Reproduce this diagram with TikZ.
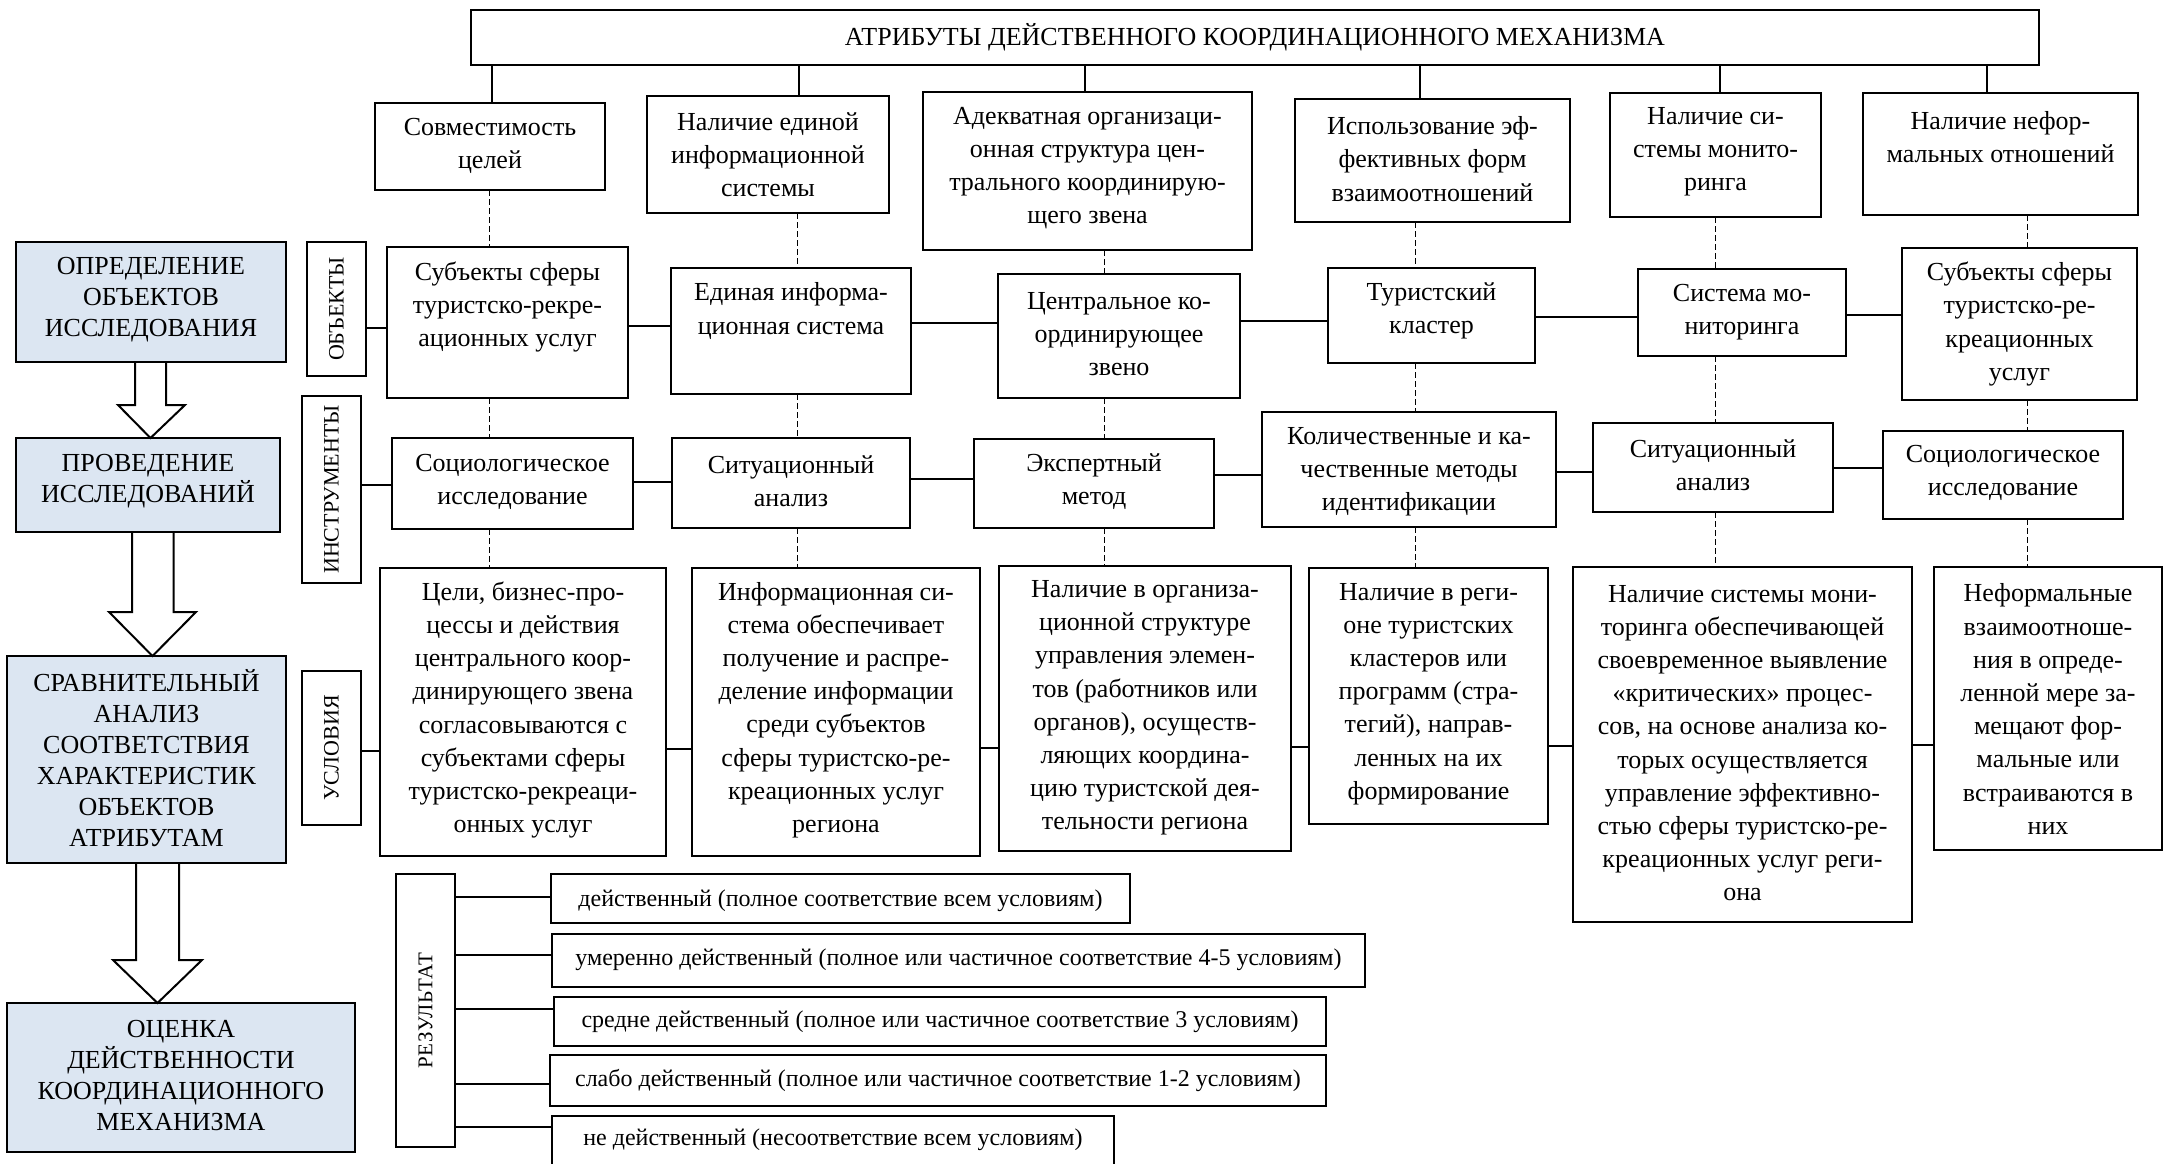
\documentclass[tikz,border=0pt]{standalone}
\usepackage{fontspec}
\setmainfont{Liberation Serif}
\usetikzlibrary{calc}
\definecolor{lblue}{HTML}{DCE6F2}
% [box style]{name}{x1}{y1}{x2}{y2}{text y}{text}
\newcommand\bxnode[8][]{%
  \pgfmathsetmacro\bxcx{(#3+#5)/2}%
  \pgfmathsetmacro\bxcy{(#4+#6)/2}%
  \pgfmathsetmacro\bxw{(#5-#3)/2}%
  \pgfmathsetmacro\bxh{(#6-#4)/2}%
  \node[box,#1,minimum width=\bxw pt,minimum height=\bxh pt] (#2) at (\bxcx,\bxcy) {};%
  \node[txt] (#2-t) at (\bxcx,#7) {#8};%
}
% {name}{x1}{y1}{x2}{y2}{text}
\newcommand\lbnode[6]{%
  \pgfmathsetmacro\bxcx{(#2+#4)/2}%
  \pgfmathsetmacro\bxcy{(#3+#5)/2}%
  \pgfmathsetmacro\bxw{(#4-#2)/2}%
  \pgfmathsetmacro\bxh{(#5-#3)/2}%
  \node[box,lab,minimum width=\bxw pt,minimum height=\bxh pt] (#1) at (\bxcx,\bxcy) {\rotatebox{90}{#6}};%
}
\begin{document}
\begin{tikzpicture}[x=0.5pt,y=-0.5pt,
  box/.style={draw,line width=0.75pt,fill=white,inner sep=0pt,outer sep=0pt},
  lab/.style={font=\fontsize{11}{13}\selectfont},
  txt/.style={inner sep=0pt,align=center,font=\fontsize{13}{16.6}\selectfont},
  conn/.style={line width=0.7pt},
  dconn/.style={line width=0.5pt,dash pattern=on 3pt off 1.5pt},
  barrow/.style={draw,line width=1pt,line join=miter}]
\useasboundingbox (0,0) rectangle (2163,1163);

% ---------- title ----------
\bxnode{T}{471}{10}{2039}{65}{37}{АТРИБУТЫ ДЕЙСТВЕННОГО КООРДИНАЦИОННОГО МЕХАНИЗМА}

% ---------- attributes ----------
\bxnode{A1}{375}{103}{605}{190}{146}{Совместимость\\целей}
\bxnode{A2}{647}{96}{889}{213}{155}{Наличие единой\\информационной\\системы}
\bxnode{A3}{923}{92}{1252}{250}{168}{Адекватная организаци-\\онная структура цен-\\трального координирую-\\щего звена}
\bxnode{A4}{1295}{99}{1570}{222}{159}{Использование эф-\\фективных форм\\взаимоотношений}
\bxnode{A5}{1610}{93}{1821}{217}{152}{Наличие си-\\стемы монито-\\ринга}
\bxnode{A6}{1863}{93}{2138}{215}{137}{Наличие нефор-\\мальных отношений}

% ---------- objects ----------
\lbnode{OBJ}{307}{242}{366}{376}{ОБЪЕКТЫ}
\bxnode{O1}{387}{247}{628}{398}{307}{Субъекты сферы\\туристско-рекре-\\ационных услуг}
\bxnode{O2}{671}{268}{911}{394}{311}{Единая информа-\\ционная система}
\bxnode{O3}{998}{274}{1240}{398}{334}{Центральное ко-\\ординирующее\\звено}
\bxnode{O4}{1328}{268}{1535}{363}{311}{Туристский\\кластер}
\bxnode{O5}{1638}{269}{1846}{356}{312}{Система мо-\\ниторинга}
\bxnode{O6}{1902}{248}{2137}{400}{324}{Субъекты сферы\\туристско-ре-\\креационных\\услуг}

% ---------- instruments ----------
\lbnode{INS}{302}{396}{361}{583}{ИНСТРУМЕНТЫ}
\bxnode{I1}{392}{438}{633}{529}{482}{Социологическое\\исследование}
\bxnode{I2}{672}{438}{910}{528}{481}{Ситуационный\\анализ}
\bxnode{I3}{974}{439}{1214}{528}{482}{Экспертный\\метод}
\bxnode{I4}{1262}{412}{1556}{527}{472}{Количественные и ка-\\чественные методы\\идентификации}
\bxnode{I5}{1593}{423}{1833}{512}{465}{Ситуационный\\анализ}
\bxnode{I6}{1883}{431}{2123}{519}{473}{Социологическое\\исследование}

% ---------- conditions ----------
\lbnode{USL}{302}{671}{361}{825}{УСЛОВИЯ}
\bxnode{C1}{380}{568}{666}{856}{710}{Цели, бизнес-про-\\цессы и действия\\центрального коор-\\динирующего звена\\согласовываются с\\субъектами сферы\\туристско-рекреаци-\\онных услуг}
\bxnode{C2}{692}{568}{980}{856}{710}{Информационная си-\\стема обеспечивает\\получение и распре-\\деление информации\\среди субъектов\\сферы туристско-ре-\\креационных услуг\\региона}
\bxnode{C3}{999}{566}{1291}{851}{708}{Наличие в организа-\\ционной структуре\\управления элемен-\\тов (работников или\\органов), осуществ-\\ляющих координа-\\цию туристской дея-\\тельности региона}
\bxnode{C4}{1309}{568}{1548}{824}{694}{Наличие в реги-\\оне туристских\\кластеров или\\программ (стра-\\тегий), направ-\\ленных на их\\формирование}
\bxnode{C5}{1573}{567}{1912}{922}{743}{Наличие системы мони-\\торинга обеспечивающей\\своевременное выявление\\«критических» процес-\\сов, на основе анализа ко-\\торых осуществляется\\управление эффективно-\\стью сферы туристско-ре-\\креационных услуг реги-\\она}
\bxnode{C6}{1934}{567}{2162}{850}{709}{Неформальные\\взаимоотноше-\\ния в опреде-\\ленной мере за-\\мещают фор-\\мальные или\\встраиваются в\\них}

% ---------- results ----------
\lbnode{RES}{396}{874}{455}{1147}{\fontsize{10.5}{12}\selectfont\addfontfeature{LetterSpace=4}РЕЗУЛЬТАТ}
\begin{scope}[txt/.style={inner sep=0pt,align=center,font=\fontsize{12}{14}\selectfont}]
\bxnode{R1}{551}{874}{1130}{923}{901}{действенный (полное соответствие всем условиям)}
\bxnode{R2}{552}{934}{1365}{987}{960}{умеренно действенный (полное или частичное соответствие 4-5 условиям)}
\bxnode{R3}{554}{997}{1326}{1046}{1022}{средне действенный (полное или частичное соответствие 3 условиям)}
\bxnode{R4}{550}{1055}{1326}{1106}{1080}{слабо действенный (полное или частичное соответствие 1-2 условиям)}
\bxnode{R5}{552}{1116}{1114}{1180}{1140}{не действенный (несоответствие всем условиям)}
\end{scope}

% ---------- left process column ----------
\begin{scope}[box/.append style={fill=lblue},
  txt/.style={inner sep=0pt,align=center,font=\fontsize{13}{15.5}\selectfont}]
\bxnode{L1}{16}{242}{286}{362}{300}{ОПРЕДЕЛЕНИЕ\\ОБЪЕКТОВ\\ИССЛЕДОВАНИЯ}
\bxnode{L2}{16}{438}{280}{532}{481}{ПРОВЕДЕНИЕ\\ИССЛЕДОВАНИЙ}
\bxnode{L3}{7}{656}{286}{863}{758}{СРАВНИТЕЛЬНЫЙ\\АНАЛИЗ\\СООТВЕТСТВИЯ\\ХАРАКТЕРИСТИК\\ОБЪЕКТОВ\\АТРИБУТАМ}
\bxnode{L4}{7}{1003}{355}{1152}{1076}{ОЦЕНКА\\ДЕЙСТВЕННОСТИ\\КООРДИНАЦИОННОГО\\МЕХАНИЗМА}
\end{scope}

% block arrows
\draw[barrow] (135,0 |- L1.south) -- (135,405) -- (118,405) -- (150.5,0 |- L2.north)
  -- (185,405) -- (166,405) -- (166,0 |- L1.south);
\draw[barrow] (132,0 |- L2.south) -- (132,612) -- (109,612) -- (152.5,0 |- L3.north)
  -- (196,612) -- (173.5,612) -- (173.5,0 |- L2.south);
\draw[barrow] (136,0 |- L3.south) -- (136,960) -- (113,960) -- (157.5,0 |- L4.north)
  -- (202,960) -- (179,960) -- (179,0 |- L3.south);

% ---------- title connectors ----------
\foreach \a/\xx in {A1/492,A2/799,A3/1085,A4/1420,A5/1720,A6/1987}
  \draw[conn] (T.south -| \xx,0) -- (\a.north -| \xx,0);

% ---------- dashed vertical connectors ----------
\foreach \a/\o/\i/\c/\xx in {A1/O1/I1/C1/489,A2/O2/I2/C2/797,A3/O3/I3/C3/1104,
    A4/O4/I4/C4/1415,A5/O5/I5/C5/1715,A6/O6/I6/C6/2027}{
  \draw[dconn] (\a.south -| \xx,0) -- (\o.north -| \xx,0);
  \draw[dconn] (\o.south -| \xx,0) -- (\i.north -| \xx,0);
  \draw[dconn] (\i.south -| \xx,0) -- (\c.north -| \xx,0);
}

% ---------- horizontal connectors ----------
\foreach \p/\q/\yy in {OBJ/O1/328,O1/O2/326,O2/O3/323,O3/O4/321,O4/O5/317,O5/O6/315,
    INS/I1/485,I1/I2/482,I2/I3/479,I3/I4/475,I4/I5/472,I5/I6/468,
    USL/C1/751,C1/C2/749,C2/C3/748,C3/C4/747,C4/C5/746,C5/C6/745,
    RES/R1/897,RES/R2/955,RES/R3/1009,RES/R4/1084,RES/R5/1127}
  \draw[conn] (\p.east |- 0,\yy) -- (\q.west |- 0,\yy);
\end{tikzpicture}
\end{document}
